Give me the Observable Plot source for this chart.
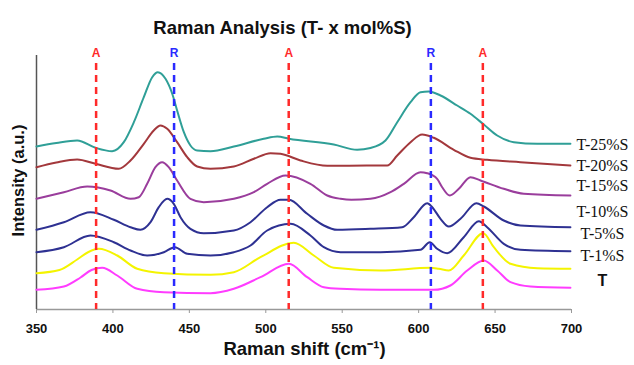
<!DOCTYPE html>
<html>
<head>
<meta charset="utf-8">
<script src="https://cdn.jsdelivr.net/npm/d3@7"></script>
<script src="https://cdn.jsdelivr.net/npm/@observablehq/plot@0.6"></script>
<style>
  html, body { margin: 0; padding: 0; background: #fff; }
  #chart { width: 634px; height: 365px; }
  svg { font-family: "Liberation Sans", Arial, sans-serif; }
</style>
</head>
<body>
<div id="chart"></div>
<script>
// Series labels (top to bottom) and colours
const seriesNames = ["T-25%S", "T-20%S", "T-15%S", "T-10%S", "T-5%S", "T-1%S", "T"];
const seriesColors = ["#2f9f97", "#a3383c", "#9a3d9c", "#2e3192", "#2e3192", "#f4f400", "#ff3cff"];
// Label levels (intensity units, a.u.)
const labelLevels = [164.7, 144, 123.3, 97.3, 75.7, 54, 29];

// Spectra: [Raman shift (cm-1), intensity (a.u., offset)]
const t25 = [[350,163],[363,166.5],[376.6,169],[388.6,161.7],[399.5,158.3],[407.1,167.3],[413.7,187.3],[420.2,212.3],[425.7,232.3],[429.4,237.3],[434.4,230.7],[438.8,215.7],[442,199],[446.4,177.3],[450.7,164],[455.1,159],[463.8,158.3],[479.1,163],[498.7,170.7],[507.5,173],[515.1,170.7],[544.5,165],[559.8,159.7],[568.5,161.5],[578.3,169],[586,187.3],[594.7,207.3],[601.2,217.3],[606.6,218],[614.3,214],[625.2,204],[633.9,195.7],[642.6,185],[651.4,174],[662.3,167.3],[677.6,165.7],[699.3,165.7]];
const t20 = [[350,142.3],[363,147],[376.6,150],[388.6,145.7],[403.8,140.7],[411.5,149],[420.2,165.7],[426.7,179],[431.1,184],[435.5,180.7],[442,167.3],[448.6,152.3],[455.1,143],[463.8,140.7],[479.1,143],[492.2,150.7],[503.1,156.3],[509.6,155.7],[522.7,149],[540.2,143.7],[568.5,144],[579.4,144],[586,154],[594.7,167.3],[602.3,175],[609.9,171.7],[623,159.7],[633.9,151.7],[644.8,149.7],[666.6,147.3],[699.3,144]];
const t15 = [[350,110.7],[367.9,117.3],[383.2,123],[398.4,119],[411.5,110.7],[416.9,112.3],[422.4,125.7],[427.8,142.3],[432.2,147.3],[436.5,142.3],[442,129],[450.7,110.7],[459.4,107.3],[479.1,110.7],[492.2,117.3],[500.9,125.7],[512.9,134],[529.2,125.7],[540.2,114],[548.9,110.7],[556,109.7],[568.5,110.7],[581.6,117.3],[590.3,125.7],[601.2,137.3],[605.6,136.3],[612.1,130.7],[615.4,122.3],[620.4,114],[626.3,120.7],[633.9,132.3],[640.5,129],[655.7,120.7],[668.8,115.7],[699.3,114]];
const t10 = [[350,79.7],[367.9,87.3],[385.3,97.3],[400.6,89.7],[411.5,82.3],[418,79.7],[424.6,87.3],[430,102.3],[435.5,110.7],[439.8,105.7],[444.2,92.3],[450.7,80.7],[459.4,76.3],[479.1,79],[490,87.3],[500.9,102.3],[509.6,109.7],[515.1,109.7],[527.1,95.7],[538,84],[546.7,79.7],[568.5,80.7],[589.2,82.3],[596.8,92.3],[605.6,106.3],[608.9,102.3],[614.3,90.7],[619.7,83],[627.4,90.7],[637.8,106.3],[642.6,103],[655.7,89],[666.6,84],[699.3,82.3]];
const t5 = [[350,57.3],[367.9,62.3],[385.3,74],[400.6,67.3],[411.5,59],[422.4,54],[433.3,57.3],[440.5,62.3],[448.6,55.7],[463.8,54],[479.1,57.3],[490,64],[500.9,79],[516.2,85.7],[529.2,74],[538,62.3],[548.9,57.3],[575,57.3],[601.2,59.7],[607.3,67.3],[612.1,60.7],[618.7,56.3],[629.5,72.3],[639.4,88.3],[644.8,82.3],[655.7,65.7],[666.6,59.7],[699.3,58.3]];
const t1 = [[350,36.3],[365,39.5],[376.6,50],[384,57.5],[390.8,60.7],[402.8,54],[415.9,40.7],[433.3,36.3],[463.8,34.7],[479.1,37.3],[496.5,52.3],[518.3,66.7],[531.4,54],[544.5,41.7],[575,39],[607.8,41.7],[613.2,40.7],[619.7,39],[629.5,54],[642.2,76.3],[649.2,62.3],[660.1,45.7],[677.6,41.3],[699.3,40.7]];
const t0 = [[350,19.7],[367.9,23],[378.8,32],[386,39.5],[393,41.7],[402.8,34],[415.9,20.7],[433.3,17.3],[463.8,16.3],[479.1,20.7],[496.5,32.3],[515.1,45.7],[527.1,32.3],[538,22.3],[548.9,20.7],[575,19.7],[609.9,19.7],[620.8,24],[631.8,39],[642.6,49],[651.4,39],[660.1,27.3],[673.2,23],[699.3,21.7]];
const spectra = [t25, t20, t15, t10, t5, t1, t0];

// Band markers: A = anatase, R = rutile
const bandShifts = [389, 440, 515, 608, 642];
const bandLabels = ["A", "R", "A", "R", "A"];
const bandColors = ["#ff2a2a", "#2a2aff", "#ff2a2a", "#2a2aff", "#ff2a2a"];
const xTicks = [350, 400, 450, 500, 550, 600, 650, 700];

const rows = spectra.flatMap((s, i) => s.map(([shift, v]) => ({series: seriesNames[i], shift, v})));
const bands = bandShifts.map((x, i) => ({x, label: bandLabels[i], color: bandColors[i]}));
const labels = seriesNames.map((name, i) => ({name, y: labelLevels[i]}));

const chart = Plot.plot({
  width: 634,
  height: 365,
  marginTop: 55,
  marginBottom: 56,
  marginLeft: 36,
  marginRight: 63,
  x: {domain: [350, 700]},
  y: {domain: [0, 254], axis: null},
  color: {domain: seriesNames, range: seriesColors},
  marks: [
    Plot.ruleY([0], {stroke: "#999", strokeWidth: 1.5}),
    Plot.ruleX([350], {stroke: "#555", strokeWidth: 1.5}),
    Plot.axisX({ticks: xTicks, tickSize: 4, tickPadding: 10, stroke: "#999", fontSize: 13, fontWeight: "bold", fill: "#111",
      label: null}),
    Plot.line(rows, {x: "shift", y: "v", z: "series", stroke: "series", strokeWidth: 2, curve: "monotone-x"}),
    Plot.ruleX(bands, {x: "x", stroke: "color", strokeWidth: 2.5, strokeDasharray: "7,5", insetTop: 8}),
    Plot.text(bands, {x: "x", text: "label", fill: "color", frameAnchor: "top", dy: -7, fontSize: 12, fontWeight: "bold"}),
    Plot.text(labels.filter(d => d.name !== "T"), {x: 700, y: "y", text: "name", dx: 31, textAnchor: "middle",
      fontSize: 16, fontFamily: "Liberation Serif", fill: "#111"}),
    Plot.text(labels.filter(d => d.name === "T"), {x: 700, y: "y", text: "name", dx: 31, textAnchor: "middle",
      fontSize: 16, fontWeight: "bold", fill: "#111"}),
    Plot.text(["Raman Analysis (T- x mol%S)"], {frameAnchor: "top-left", dx: 246, dy: -35, textAnchor: "middle",
      fontSize: 18.5, fontWeight: "bold", fill: "#111"}),
    Plot.text(["Raman shift (cm⁻¹)"], {frameAnchor: "bottom-left", dx: 268, dy: 45, textAnchor: "middle",
      fontSize: 18.5, fontWeight: "bold", fill: "#111"}),
    Plot.text(["Intensity (a.u.)"], {frameAnchor: "left", dx: -18, dy: -2, rotate: -90, textAnchor: "middle",
      fontSize: 16.5, fontWeight: "bold", fill: "#111"})
  ]
});
document.getElementById("chart").appendChild(chart);
</script>
</body>
</html>
